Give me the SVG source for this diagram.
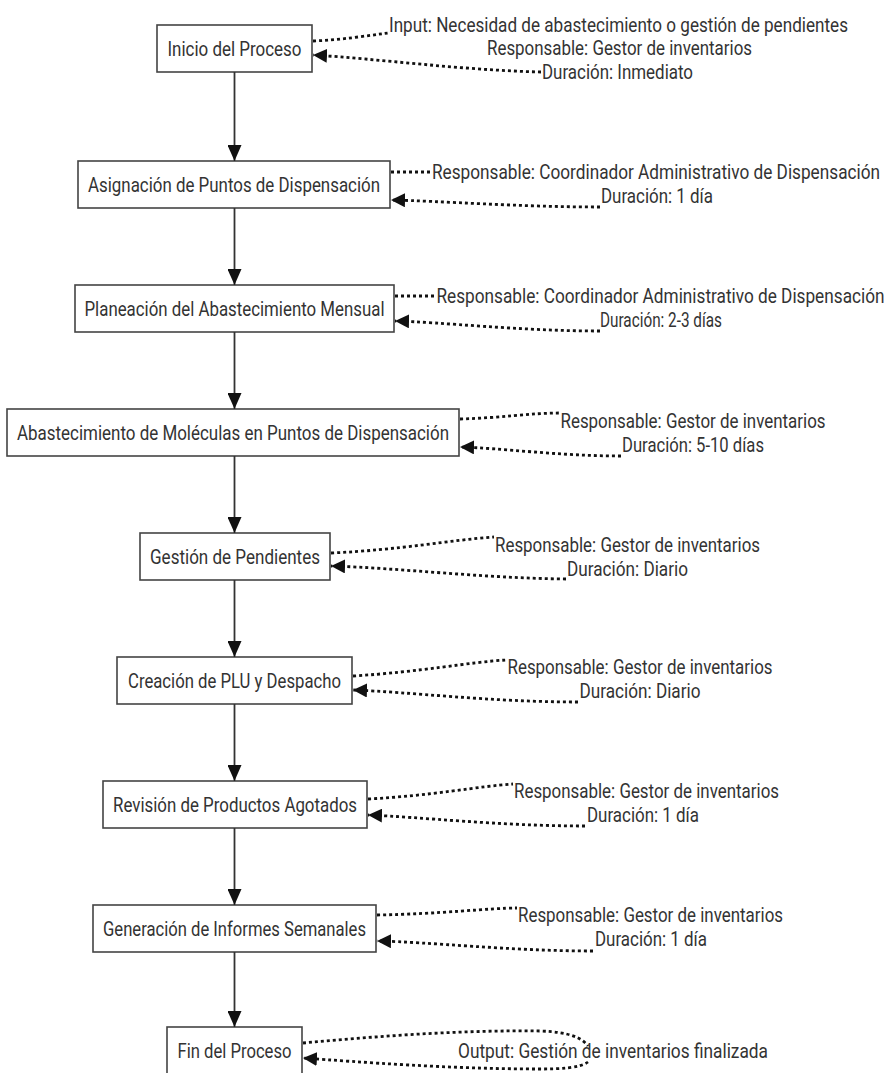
<svg xmlns="http://www.w3.org/2000/svg" width="886" height="1073" viewBox="0 0 886 1073">
  <defs>
    <style>
      .box { fill: #ffffff; stroke: #444444; stroke-width: 1.6; }
      .lbl { font-family: "Roboto", "Liberation Sans", sans-serif; font-size: 20px; fill: #333333; text-anchor: middle; }
      .flow { fill: none; stroke: #333333; stroke-width: 1.8; }
      .dot { fill: none; stroke: #111111; stroke-width: 2.8; stroke-dasharray: 3 3; }
    </style>
    <marker id="head" viewBox="0 0 16 14" refX="16" refY="7" markerWidth="16" markerHeight="14" markerUnits="userSpaceOnUse" orient="auto">
      <path d="M0,0 L16,7 L0,14 z" fill="#111111"/>
    </marker>
    <marker id="headSide" viewBox="0 0 14 14" refX="14" refY="7" markerWidth="14" markerHeight="14" markerUnits="userSpaceOnUse" orient="auto">
      <path d="M0,0 L14,7 L0,14 z" fill="#111111"/>
    </marker>
  </defs>
  <rect width="886" height="1073" fill="#ffffff"/>

  <!-- process steps (condensed lettering via textLength) -->
  <g id="inicio">
    <rect class="box" x="157" y="25" width="155" height="47"/>
    <text class="lbl" x="234.5" y="55.5" textLength="134" lengthAdjust="spacingAndGlyphs">Inicio del Proceso</text>
  </g>
  <g id="asignacion">
    <rect class="box" x="78" y="161" width="312" height="47"/>
    <text class="lbl" x="234" y="191.5" textLength="292" lengthAdjust="spacingAndGlyphs">Asignación de Puntos de Dispensación</text>
  </g>
  <g id="planeacion">
    <rect class="box" x="75" y="285" width="319" height="47"/>
    <text class="lbl" x="234.5" y="315.5" textLength="300" lengthAdjust="spacingAndGlyphs">Planeación del Abastecimiento Mensual</text>
  </g>
  <g id="abastecimiento">
    <rect class="box" x="7" y="409" width="452" height="47"/>
    <text class="lbl" x="233" y="439.5" textLength="432" lengthAdjust="spacingAndGlyphs">Abastecimiento de Moléculas en Puntos de Dispensación</text>
  </g>
  <g id="pendientes">
    <rect class="box" x="140" y="533" width="190" height="47"/>
    <text class="lbl" x="235" y="563.5" textLength="170" lengthAdjust="spacingAndGlyphs">Gestión de Pendientes</text>
  </g>
  <g id="plu">
    <rect class="box" x="117" y="657" width="235" height="47"/>
    <text class="lbl" x="234.5" y="687.5" textLength="213" lengthAdjust="spacingAndGlyphs">Creación de PLU y Despacho</text>
  </g>
  <g id="agotados">
    <rect class="box" x="103" y="781" width="264" height="47"/>
    <text class="lbl" x="235" y="811.5" textLength="244" lengthAdjust="spacingAndGlyphs">Revisión de Productos Agotados</text>
  </g>
  <g id="informes">
    <rect class="box" x="93" y="905" width="283" height="47"/>
    <text class="lbl" x="234.5" y="935.5" textLength="263" lengthAdjust="spacingAndGlyphs">Generación de Informes Semanales</text>
  </g>
  <g id="fin">
    <rect class="box" x="167" y="1027" width="135" height="50"/>
    <text class="lbl" x="234.5" y="1057.5" textLength="114" lengthAdjust="spacingAndGlyphs">Fin del Proceso</text>
  </g>

  <!-- side notes -->
  <g id="nota-inicio">
    <text class="lbl" x="618.5" y="31.5" textLength="459" lengthAdjust="spacingAndGlyphs">Input: Necesidad de abastecimiento o gestión de pendientes</text>
    <text class="lbl" x="619.5" y="55" textLength="265" lengthAdjust="spacingAndGlyphs">Responsable: Gestor de inventarios</text>
    <text class="lbl" x="617.5" y="78.5" textLength="151" lengthAdjust="spacingAndGlyphs">Duración: Inmediato</text>
  </g>
  <g id="nota-asignacion">
    <text class="lbl" x="656" y="179" textLength="448" lengthAdjust="spacingAndGlyphs">Responsable: Coordinador Administrativo de Dispensación</text>
    <text class="lbl" x="657" y="203" textLength="112" lengthAdjust="spacingAndGlyphs">Duración: 1 día</text>
  </g>
  <g id="nota-planeacion">
    <text class="lbl" x="660.5" y="303" textLength="448" lengthAdjust="spacingAndGlyphs">Responsable: Coordinador Administrativo de Dispensación</text>
    <text class="lbl" x="661" y="327" textLength="122" lengthAdjust="spacingAndGlyphs">Duración: 2-3 días</text>
  </g>
  <g id="nota-abastecimiento">
    <text class="lbl" x="693" y="428" textLength="265" lengthAdjust="spacingAndGlyphs">Responsable: Gestor de inventarios</text>
    <text class="lbl" x="693" y="452" textLength="142" lengthAdjust="spacingAndGlyphs">Duración: 5-10 días</text>
  </g>
  <g id="nota-pendientes">
    <text class="lbl" x="627.5" y="552" textLength="265" lengthAdjust="spacingAndGlyphs">Responsable: Gestor de inventarios</text>
    <text class="lbl" x="627.5" y="576" textLength="121" lengthAdjust="spacingAndGlyphs">Duración: Diario</text>
  </g>
  <g id="nota-plu">
    <text class="lbl" x="640" y="674" textLength="265" lengthAdjust="spacingAndGlyphs">Responsable: Gestor de inventarios</text>
    <text class="lbl" x="640" y="698" textLength="121" lengthAdjust="spacingAndGlyphs">Duración: Diario</text>
  </g>
  <g id="nota-agotados">
    <text class="lbl" x="646.5" y="798" textLength="265" lengthAdjust="spacingAndGlyphs">Responsable: Gestor de inventarios</text>
    <text class="lbl" x="643" y="822" textLength="112" lengthAdjust="spacingAndGlyphs">Duración: 1 día</text>
  </g>
  <g id="nota-informes">
    <text class="lbl" x="650.5" y="921.5" textLength="265" lengthAdjust="spacingAndGlyphs">Responsable: Gestor de inventarios</text>
    <text class="lbl" x="651" y="945.5" textLength="112" lengthAdjust="spacingAndGlyphs">Duración: 1 día</text>
  </g>
  <g id="nota-fin">
    <text class="lbl" x="613" y="1058" textLength="310" lengthAdjust="spacingAndGlyphs">Output: Gestión de inventarios finalizada</text>
  </g>

  <!-- connectors -->
  <g id="connectors">
    <line class="flow" x1="234.5" y1="72" x2="234.5" y2="161" marker-end="url(#head)"/>
    <line class="flow" x1="234.5" y1="208" x2="234.5" y2="285" marker-end="url(#head)"/>
    <line class="flow" x1="234.5" y1="332" x2="234.5" y2="409" marker-end="url(#head)"/>
    <line class="flow" x1="234.5" y1="456" x2="234.5" y2="533" marker-end="url(#head)"/>
    <line class="flow" x1="234.5" y1="580" x2="234.5" y2="657" marker-end="url(#head)"/>
    <line class="flow" x1="234.5" y1="704" x2="234.5" y2="781" marker-end="url(#head)"/>
    <line class="flow" x1="234.5" y1="828" x2="234.5" y2="905" marker-end="url(#head)"/>
    <line class="flow" x1="234.5" y1="952" x2="234.5" y2="1027" marker-end="url(#head)"/>

    <path class="dot" d="M313,41 C340,40 365,36 388,33"/>
    <path class="dot" d="M541,72 C460,70 380,59 313,55" marker-end="url(#headSide)"/>

    <path class="dot" d="M391,172 L431,172"/>
    <path class="dot" d="M600,207 C520,207 440,201 391,200" marker-end="url(#headSide)"/>

    <path class="dot" d="M395,296 L435,296"/>
    <path class="dot" d="M600,331 C520,331 440,322 395,321" marker-end="url(#headSide)"/>

    <path class="dot" d="M460,419 C500,418 530,413 560,413"/>
    <path class="dot" d="M621,456 C560,456 500,448 460,447" marker-end="url(#headSide)"/>

    <path class="dot" d="M331,553 C400,550 450,540 494,537"/>
    <path class="dot" d="M566,579 C480,578 400,568 331,566" marker-end="url(#headSide)"/>

    <path class="dot" d="M353,676 C420,672 470,662 506,660"/>
    <path class="dot" d="M578,702 C490,702 410,692 353,690" marker-end="url(#headSide)"/>

    <path class="dot" d="M368,799 C430,796 480,786 513,784"/>
    <path class="dot" d="M585,826 C500,826 420,817 368,815" marker-end="url(#headSide)"/>

    <path class="dot" d="M377,915 C440,914 490,908 517,908"/>
    <path class="dot" d="M593,951 C510,951 430,942 377,941" marker-end="url(#headSide)"/>

    <path class="dot" d="M303,1043 C380,1036 460,1030 540,1031 C570,1032 582,1038 588,1046"/>
    <path class="dot" d="M588,1062 C580,1068 560,1069 540,1069 C450,1069 360,1062 303,1058" marker-end="url(#headSide)"/>
  </g>
</svg>
